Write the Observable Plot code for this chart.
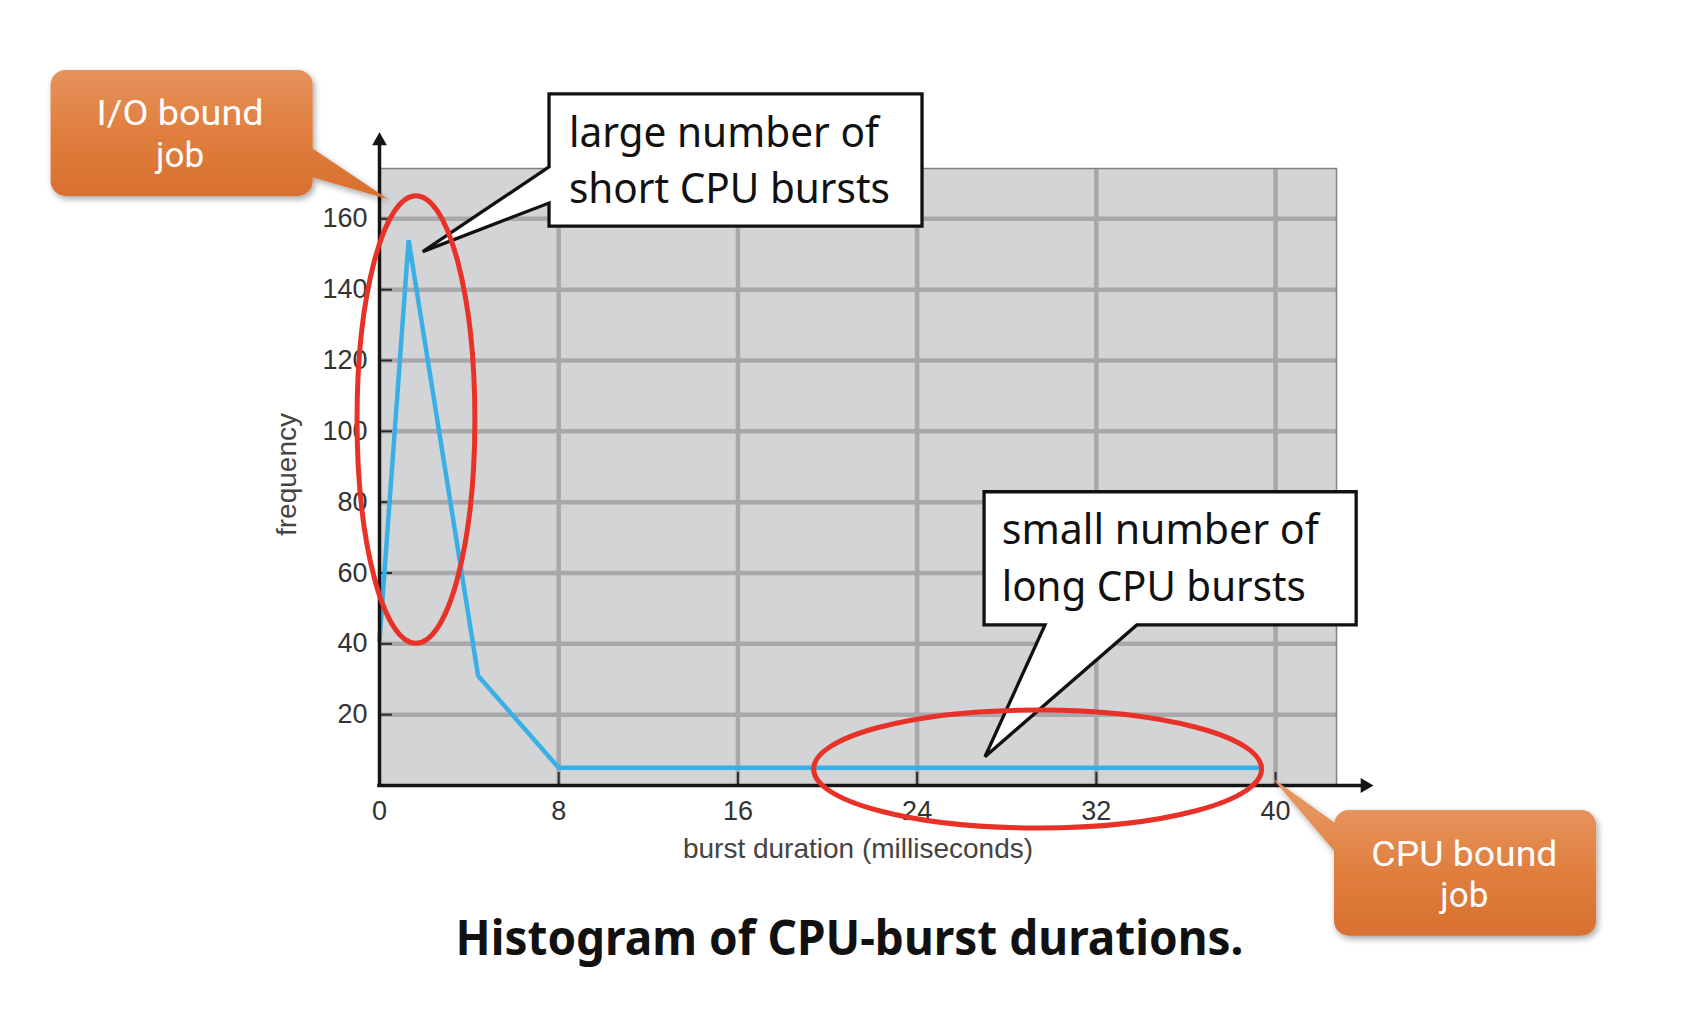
<!DOCTYPE html>
<html>
<head>
<meta charset="utf-8">
<script src="https://cdn.jsdelivr.net/npm/d3@7"></script>
<script src="https://cdn.jsdelivr.net/npm/@observablehq/plot@0.6"></script>
<style>
  html, body { margin: 0; padding: 0; background: #fff; overflow: hidden; }
  #chart svg { display: block; }
</style>
</head>
<body>
<div id="chart"></div>
<script>
// ---- data ----
const burstMs   = [0, 1.3, 4.4, 8, 39.2];
const frequency = [41, 154, 31, 5, 5];
const xTicks = [0, 8, 16, 24, 32, 40];
const yTicks = [20, 40, 60, 80, 100, 120, 140, 160];
const xLabel = "burst duration (milliseconds)";
const yLabel = "frequency";
const titleText = "Histogram of CPU-burst durations.";

// ---- annotations (positions in data units: ms / frequency) ----
const ioCallout  = {x1: -14.66, x2: -2.96, yTop: 201.9, yBot: 166.3, side: "right",
                    base: [181.2, 172.2], tip: [0.415, 165.4],
                    cx: -8.88, lines: ["I/O bound", "job"], baselines: [186.3, 174.6],
                    lengths: [167, null]};
const cpuCallout = {x1: 42.63, x2: 54.33, yTop: -7.06, yBot: -42.55, side: "left",
                    base: [-12.14, -21.17], tip: [39.87, 1.98],
                    cx: 48.45, lines: ["CPU bound", "job"], baselines: [-22.87, -34.53],
                    lengths: [186, null]};
const shortCallout = {x1: 7.59, x2: 24.24, yTop: 195.1, yBot: 157.8, side: "left",
                    base: [174.5, 164.3], tip: [1.95, 150.6],
                    tx: 8.48, lines: ["large number of", "short CPU bursts"], baselines: [180.2, 164.3],
                    lengths: [310, 321]};
const longCallout = {x1: 27.01, x2: 43.62, yTop: 82.8, yBot: 45.2, side: "bottom",
                    base: [29.73, 33.83], tip: [27.05, 7.99],
                    tx: 27.8, lines: ["small number of", "long CPU bursts"], baselines: [67.96, 52.03],
                    lengths: [317, 304]};
const ellipses = [
  {cx: 1.65, cy: 103.2, rx: 2.63, ry: 63.2},
  {cx: 29.4, cy: 4.52, rx: 10.0, ry: 16.66}
];

// ---- layout ----
const W = 1692, H = 1020;
const M = {left: 379, right: 356, top: 168, bottom: 235};
const xDomain = [0, 42.72], yDomain = [0, 174.2];
const pxPerX = (W - M.left - M.right) / (xDomain[1] - xDomain[0]);
const pxPerY = (H - M.top - M.bottom) / (yDomain[1] - yDomain[0]);
const xTickLen = 13 / pxPerX, yTickLen = 13 / pxPerY;
const yArrowAt = 182.0, xArrowAt = 43.99;

const pts = burstMs.map((x, i) => ({x, y: frequency[i]}));
const gridCol = "#a8a8aa";

const svg = Plot.plot({
  width: W, height: H,
  marginLeft: M.left, marginRight: M.right, marginTop: M.top, marginBottom: M.bottom,
  x: {domain: xDomain},
  y: {domain: yDomain},
  style: {background: "#fff", fontFamily: "'Liberation Sans', Arial, sans-serif", color: "#333", overflow: "visible"},
  marks: [
    Plot.frame({fill: "#d3d4d6"}),
    Plot.gridX(xTicks.filter(d => d > 0), {stroke: gridCol, strokeOpacity: 1, strokeWidth: 4.5}),
    Plot.gridY(yTicks, {stroke: gridCol, strokeOpacity: 1, strokeWidth: 4.5}),
    Plot.frame({stroke: "#808080", strokeWidth: 1.5}),
    Plot.ruleX(xTicks, {y1: 0, y2: yTickLen, stroke: "#2a2a2a", strokeWidth: 2}),
    Plot.ruleY(yTicks, {x1: 0, x2: xTickLen, stroke: "#2a2a2a", strokeWidth: 2}),
    Plot.line(pts, {x: "x", y: "y", stroke: "#3aafe6", strokeWidth: 4.5, strokeLinejoin: "miter"}),
    Plot.ruleX([0], {y1: 0, y2: yArrowAt, stroke: "#151515", strokeWidth: 3.5, strokeLinecap: "square"}),
    Plot.ruleY([0], {x1: 0, x2: xArrowAt, stroke: "#151515", strokeWidth: 3.5, strokeLinecap: "square"}),
    Plot.dot([0], {x: 0, y: yArrowAt, symbol: "triangle", r: 5.5, fill: "#151515", stroke: "none"}),
    Plot.dot([0], {x: xArrowAt, y: 0, symbol: "triangle", r: 5.5, fill: "#151515", stroke: "none", rotate: 90}),
    Plot.axisY(yTicks, {tickSize: 0, tickPadding: 12, fontSize: 27, fill: "#333", label: null}),
    Plot.axisX(xTicks, {tickSize: 0, tickPadding: 15, fontSize: 27, fill: "#333", label: null}),
    Plot.text([yLabel], {frameAnchor: "left", dx: -92, dy: -2.5, rotate: -90, fontSize: 28, fill: "#444",
                         textAnchor: "middle", lineAnchor: "middle"}),
    Plot.text([xLabel], {frameAnchor: "bottom", dy: 64, fontSize: 28, fill: "#444",
                         textAnchor: "middle", lineAnchor: "middle"}),
    Plot.text([titleText], {frameAnchor: "bottom", dy: 154.6, dx: -8.5, fontSize: 48, fontWeight: "bold",
                         fontFamily: "'Noto Sans', sans-serif", fill: "#111",
                         textAnchor: "middle", lineAnchor: "middle"})
  ]
});

document.getElementById("chart").appendChild(svg);

// fit title width
d3.select(svg).selectAll("text").filter(function() { return this.textContent === titleText; })
  .attr("textLength", 788).attr("lengthAdjust", "spacingAndGlyphs");

// ---- annotation layer drawn through the plot's scales ----
const sx = svg.scale("x").apply, sy = svg.scale("y").apply;
const root = d3.select(svg);
const defs = root.append("defs");
defs.append("filter").attr("id", "shadow").attr("x", "-20%").attr("y", "-20%").attr("width", "140%").attr("height", "150%")
  .append("feDropShadow").attr("dx", 2).attr("dy", 3).attr("stdDeviation", 3)
  .attr("flood-color", "#000").attr("flood-opacity", 0.35);

const layer = root.append("g").attr("class", "annotations");

function roundRect(x1, y1, x2, y2, r) {
  return `M${x1 + r},${y1}H${x2 - r}A${r},${r} 0 0 1 ${x2},${y1 + r}V${y2 - r}A${r},${r} 0 0 1 ${x2 - r},${y2}` +
         `H${x1 + r}A${r},${r} 0 0 1 ${x1},${y2 - r}V${y1 + r}A${r},${r} 0 0 1 ${x1 + r},${y1}Z`;
}

function orangeCallout(c, id) {
  const x1 = sx(c.x1), x2 = sx(c.x2), yT = sy(c.yTop), yB = sy(c.yBot);
  const grad = defs.append("linearGradient").attr("id", id).attr("gradientUnits", "userSpaceOnUse")
    .attr("x1", 0).attr("x2", 0).attr("y1", yT).attr("y2", yB);
  grad.append("stop").attr("offset", 0).attr("stop-color", "#e6935d");
  grad.append("stop").attr("offset", 0.5).attr("stop-color", "#e07e3e");
  grad.append("stop").attr("offset", 1).attr("stop-color", "#d8702f");
  const g = layer.append("g").attr("filter", "url(#shadow)");
  g.append("path").attr("d", roundRect(x1, yT, x2, yB, 15)).attr("fill", `url(#${id})`);
  const bx = c.side === "right" ? x2 - 8 : x1 + 8;
  g.append("path")
    .attr("d", `M${bx},${sy(c.base[0])}L${sx(c.tip[0])},${sy(c.tip[1])}L${bx},${sy(c.base[1])}Z`)
    .attr("fill", `url(#${id})`);
  const t = layer.append("text")
    .attr("text-anchor", "middle").attr("fill", "#fff")
    .attr("font-family", "Roboto, 'Noto Sans', sans-serif").attr("font-size", 35);
  c.lines.forEach((s, i) => {
    const ts = t.append("tspan").attr("x", sx(c.cx)).attr("y", sy(c.baselines[i])).text(s);
    if (c.lengths[i]) ts.attr("textLength", c.lengths[i]).attr("lengthAdjust", "spacingAndGlyphs");
  });
}

function whiteCallout(c) {
  const x1 = sx(c.x1), x2 = sx(c.x2), yT = sy(c.yTop), yB = sy(c.yBot);
  let pts;
  if (c.side === "left") {
    pts = [[x1, yT], [x2, yT], [x2, yB], [x1, yB], [x1, sy(c.base[1])],
           [sx(c.tip[0]), sy(c.tip[1])], [x1, sy(c.base[0])]];
  } else {
    pts = [[x1, yT], [x2, yT], [x2, yB], [sx(c.base[1]), yB],
           [sx(c.tip[0]), sy(c.tip[1])], [sx(c.base[0]), yB], [x1, yB]];
  }
  layer.append("path").attr("d", "M" + pts.map(p => p.join(",")).join("L") + "Z")
    .attr("fill", "#fff").attr("stroke", "#111").attr("stroke-width", 3.3).attr("stroke-linejoin", "miter");
  const t = layer.append("text")
    .attr("text-anchor", "start").attr("fill", "#111")
    .attr("font-family", "'Noto Sans', sans-serif").attr("font-size", 42);
  c.lines.forEach((s, i) => {
    t.append("tspan").attr("x", sx(c.tx)).attr("y", sy(c.baselines[i]))
      .attr("textLength", c.lengths[i]).attr("lengthAdjust", "spacingAndGlyphs").text(s);
  });
}

orangeCallout(ioCallout, "gradIO");
orangeCallout(cpuCallout, "gradCPU");
whiteCallout(shortCallout);
whiteCallout(longCallout);

ellipses.forEach(e => {
  layer.append("ellipse")
    .attr("cx", sx(e.cx)).attr("cy", sy(e.cy))
    .attr("rx", Math.abs(sx(e.cx + e.rx) - sx(e.cx)))
    .attr("ry", Math.abs(sy(e.cy + e.ry) - sy(e.cy)))
    .attr("fill", "none").attr("stroke", "#e83228").attr("stroke-width", 5);
});
</script>
</body>
</html>
